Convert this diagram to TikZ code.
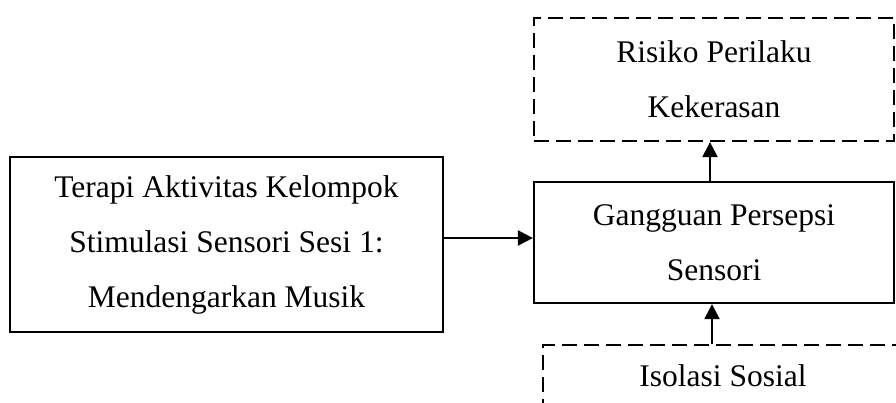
\documentclass[tikz,border=0pt]{standalone}
\usepackage{fontspec}
\setmainfont{Liberation Serif}
\usetikzlibrary{arrows.meta}
\begin{document}
\begin{tikzpicture}[x=1pt,y=-1pt,
  txt/.style={font=\fontsize{31.5}{55}\selectfont, align=center, inner sep=0pt},
  solidbox/.style={txt, draw, line width=2.2pt},
  dashbox/.style={txt, draw, line width=2.2pt, dash pattern=on 15pt off 7pt},
  arr/.style={line width=2.2pt, -{Triangle[length=15pt,width=15pt]}}]
\useasboundingbox (0,0) rectangle (896,402);
\clip (0,0) rectangle (896,402);
\node[solidbox, minimum width=433pt, minimum height=175pt] (tak) at (226.5,244.5)
  {Terapi Aktivitas Kelompok\\Stimulasi Sensori Sesi 1:\\Mendengarkan Musik};
\node[solidbox, minimum width=360pt, minimum height=121pt] (gps) at (714,242.5)
  {Gangguan Persepsi\\Sensori};
\node[dashbox, minimum width=360pt, minimum height=123pt] (rpk) at (714,79.5)
  {Risiko Perilaku\\Kekerasan};
\node[dashbox, minimum width=360pt, minimum height=62pt] (iso) at (723,376)
  {Isolasi Sosial};
\draw[arr] (tak.east |- 0,238) -- (gps.west |- 0,238);
\draw[arr] (gps.north -| 710,0) -- (rpk.south -| 710,0);
\draw[arr] (iso.north -| 712,0) -- (gps.south -| 712,0);
\end{tikzpicture}
\end{document}
